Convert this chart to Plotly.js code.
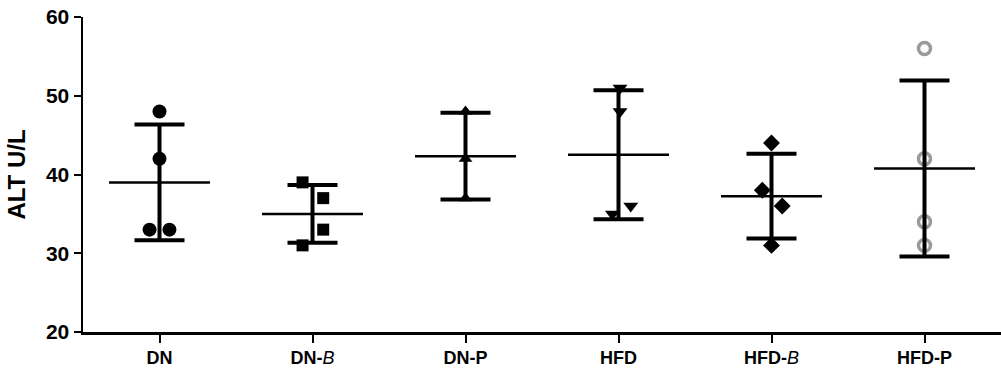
<!DOCTYPE html>
<html>
<head>
<meta charset="utf-8">
<script src="https://cdn.plot.ly/plotly-3.0.1.min.js"></script>
<style>html,body{margin:0;padding:0;background:#fff;}#chart{width:1001px;height:371px;}</style>
</head>
<body>
<div id="chart"></div>
<script>
// Group names and tick labels
const categories = ['DN', 'DN-B', 'DN-P', 'HFD', 'HFD-B', 'HFD-P'];
const tickLabels = ['<b>DN</b>', '<b>DN-</b><i>B</i>', '<b>DN-P</b>', '<b>HFD</b>', '<b>HFD-</b><i>B</i>', '<b>HFD-P</b>'];
const yTickValues = [20, 30, 40, 50, 60];

// ALT values (U/L) per group
const dnValues    = [48, 42, 33, 33];
const dnBValues   = [39, 37, 33, 31];
const dnPValues   = [48, 42, 37];
const hfdValues   = [51, 48, 35, 36];
const hfdBValues  = [44, 38, 36, 31];
const hfdPValues  = [56, 42, 34, 31];

// horizontal scatter offsets (category units) for overlapping points
const dnJitter   = [0, 0, -0.065, 0.065];
const dnBJitter  = [-0.065, 0.07, 0.07, -0.065];
const dnPJitter  = [0, 0, 0];
const hfdJitter  = [0.01, 0.01, -0.04, 0.08];
const hfdBJitter = [0, -0.06, 0.07, 0];
const hfdPJitter = [0, 0, 0, 0];

const groups = [dnValues, dnBValues, dnPValues, hfdValues, hfdBValues, hfdPValues];
const jitters = [dnJitter, dnBJitter, dnPJitter, hfdJitter, hfdBJitter, hfdPJitter];
const markerStyles = [
  {symbol: 'circle', size: 14, color: '#000'},
  {symbol: 'square', size: 12, color: '#000'},
  {symbol: 'triangle-up', size: 12, color: '#000'},
  {symbol: 'triangle-down', size: 13, color: '#000'},
  {symbol: 'diamond', size: 13, color: '#000'},
  {symbol: 'circle-open', size: 12, color: '#9a9a9a', line: {color: '#9a9a9a', width: 3.5}}
];

function mean(a) { return a.reduce((s, v) => s + v, 0) / a.length; }
function sd(a) { const m = mean(a); return Math.sqrt(a.reduce((s, v) => s + (v - m) * (v - m), 0) / (a.length - 1)); }

const traces = [];
groups.forEach((vals, i) => {
  traces.push({
    type: 'scatter', mode: 'markers',
    x: vals.map((v, k) => i + jitters[i][k]),
    y: vals,
    marker: markerStyles[i],
    hoverinfo: 'y', showlegend: false, cliponaxis: false
  });
});

const means = groups.map(mean);
const sds = groups.map(sd);
traces.push({
  type: 'scatter', mode: 'markers',
  x: categories.map((c, i) => i),
  y: means,
  marker: {size: 1, color: 'rgba(0,0,0,0)'},
  error_y: {type: 'data', array: sds, visible: true, color: '#000', thickness: 4, width: 25},
  error_x: {type: 'constant', value: 0.33, visible: true, color: '#000', thickness: 2.5, width: 0},
  showlegend: false, hoverinfo: 'skip', cliponaxis: false
});

const FONT = '"Liberation Sans", Arial, sans-serif';
const layout = {
  width: 1001, height: 371,
  margin: {l: 83, r: 0, t: 17, b: 39},
  paper_bgcolor: '#fff', plot_bgcolor: '#fff',
  font: {family: FONT, color: '#000'},
  showlegend: false,
  xaxis: {
    range: [-0.5, 5.5], tickvals: categories.map((c, i) => i), ticktext: tickLabels,
    showgrid: false, zeroline: false, showline: true, linecolor: '#000', linewidth: 2.5,
    ticks: 'outside', ticklen: 8, tickwidth: 2, tickcolor: '#000',
    tickfont: {size: 18, color: '#000', family: FONT}
  },
  yaxis: {
    range: [20, 60], tickvals: yTickValues,
    showgrid: false, zeroline: false, showline: true, linecolor: '#000', linewidth: 2.5,
    ticks: 'outside', ticklen: 7, tickwidth: 2, tickcolor: '#000',
    tickfont: {size: 21, color: '#000', weight: 'bold', family: FONT},
    title: {text: '<b>ALT U/L</b>', font: {size: 24, color: '#000', family: FONT}, standoff: 14}
  }
};

Plotly.newPlot('chart', traces, layout, {displayModeBar: false, staticPlot: true});
</script>
</body>
</html>
